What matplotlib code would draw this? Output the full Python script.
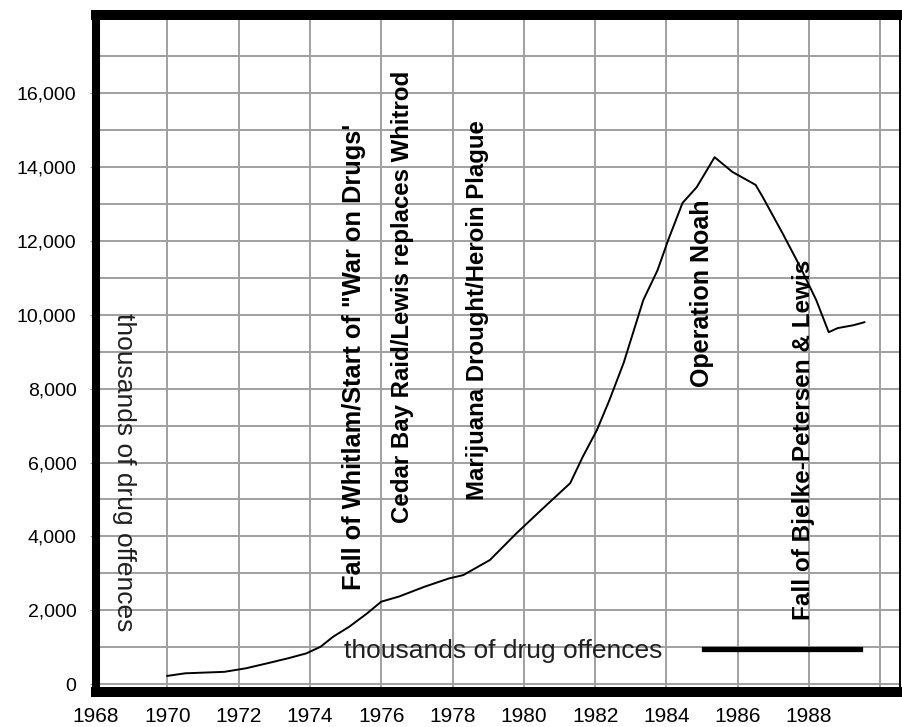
import matplotlib
matplotlib.use("Agg")
import matplotlib.pyplot as plt
from matplotlib.ticker import MultipleLocator

plt.rcParams['font.family'] = ['Liberation Sans', 'DejaVu Sans']

# drug offences (thousands)
years = [1970.0, 1970.5, 1971.6, 1972.2, 1972.8, 1973.4, 1973.9, 1974.3, 1974.65,
         1975.1, 1975.6, 1976.0, 1976.5, 1977.2, 1977.9, 1978.3, 1979.05, 1979.8,
         1980.55, 1981.3, 1981.65, 1982.05, 1982.4, 1982.8, 1983.35, 1983.75,
         1984.05, 1984.45, 1984.85, 1985.35, 1985.85, 1986.5, 1986.7, 1987.25,
         1987.75, 1988.2, 1988.55, 1988.8, 1989.25, 1989.55]
offences = [220, 290, 330, 425, 560, 700, 830, 1010, 1280,
            1550, 1910, 2230, 2370, 2630, 2860, 2950, 3360, 4090,
            4770, 5440, 6150, 6880, 7690, 8700, 10400, 11210,
            12030, 13030, 13460, 14270, 13870, 13520, 13190, 12220,
            11300, 10400, 9530, 9640, 9720, 9800]

series_label = "thousands of drug offences"

year_ticks = [1968, 1970, 1972, 1974, 1976, 1978, 1980, 1982, 1984, 1986, 1988, 1990]
year_labels = ["1968", "1970", "1972", "1974", "1976", "1978", "1980", "1982",
               "1984", "1986", "1988", ""]
value_ticks = [0, 2000, 4000, 6000, 8000, 10000, 12000, 14000, 16000]
value_labels = ["0", "2,000", "4,000", "6,000", "8,000", "10,000", "12,000",
                "14,000", "16,000"]

events = ["Fall of Whitlam/Start of \"War on Drugs'",
          "Cedar Bay Raid/Lewis replaces Whitrod",
          "Marijuana Drought/Heroin Plague",
          "Operation Noah",
          "Fall of Bjelke-Petersen & Lewis"]

fig = plt.figure(figsize=(9.02, 7.27), dpi=100)
ax = fig.add_axes([0.1064, 0.0481, 0.8914, 0.9312])

ax.plot(years, offences, color='black', lw=1.4, label=series_label)

ax.set_xlim(1968, 1990.55)
ax.set_ylim(-217, 18120)

ax.set_xticks(year_ticks)
ax.set_xticklabels(year_labels, fontsize=15)
ax.set_yticks(value_ticks)
ax.set_yticklabels(value_labels, fontsize=14)
ax.yaxis.set_minor_locator(MultipleLocator(1000))
ax.tick_params(axis='x', length=0, pad=11)
ax.tick_params(axis='y', which='major', length=4, color='#999999', pad=10)
ax.tick_params(axis='y', which='minor', length=0)

ax.grid(True, which='both', color='#a0a0a0', lw=1.4)
ax.set_axisbelow(True)

# heavy frame like the original
ax.spines['left'].set_linewidth(5.8)
ax.spines['bottom'].set_linewidth(7.2)
ax.spines['top'].set_linewidth(7.2)
ax.spines['right'].set_linewidth(1.4)
for s in ax.spines.values():
    s.set_capstyle('projecting')

# event notes, rotated (x = year, y = where the text starts)
event_x = [1975.24, 1976.61, 1978.69, 1985.0, 1987.83]
event_y = [2546, 4361, 4984, 8044, 1733]
event_size = [18.3, 17.3, 17.3, 18.0, 17.5]
for txt, ex, ey, fs in zip(events, event_x, event_y, event_size):
    ax.text(ex, ey, txt, rotation=90, ha='center', va='bottom',
            fontsize=fs, fontweight='bold', color='black')

# sideways label inside the plot
ax.text(0.0348, 0.325, series_label, rotation=270, ha='center', va='center',
        fontsize=19, color='#202020', transform=ax.transAxes)

leg = ax.legend(loc='center right', bbox_to_anchor=(0.950, 0.0606),
                markerfirst=False, frameon=False, fontsize=19,
                handlelength=5.9, handletextpad=1.6, borderpad=0,
                borderaxespad=0)
for t in leg.get_texts():
    t.set_color('#202020')
for l in leg.get_lines():
    l.set_linewidth(3.8)

fig.savefig("out.png", dpi=100)
